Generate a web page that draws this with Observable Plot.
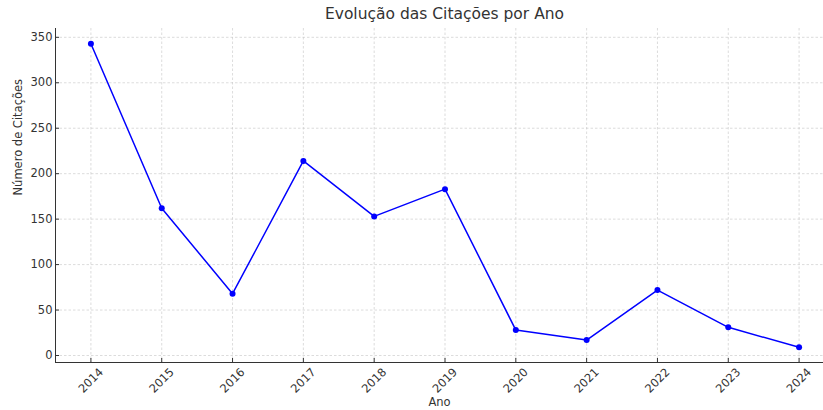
<!DOCTYPE html>
<html>
<head>
<meta charset="utf-8">
<script src="https://cdn.jsdelivr.net/npm/d3@7"></script>
<script src="https://cdn.jsdelivr.net/npm/@observablehq/plot@0.6"></script>
<style>
  html, body { margin: 0; padding: 0; background: white; overflow: hidden; }
  #chart { position: relative; width: 823px; height: 410px; }
  #title { position: absolute; left: 0; top: 5px; width: 889px; text-align: center;
           font-family: "DejaVu Sans", sans-serif; font-size: 15.5px; color: #333; }
</style>
</head>
<body>
<div id="chart"><div id="title">Evolução das Citações por Ano</div></div>
<script>
const years = [2014, 2015, 2016, 2017, 2018, 2019, 2020, 2021, 2022, 2023, 2024];
const citations = [343, 162, 68, 214, 153, 183, 28, 17, 72, 31, 9];
const yTicks = [0, 50, 100, 150, 200, 250, 300, 350];
const xTicks = years;

const data = years.map((y, i) => ({ year: y, value: citations[i] }));
const font = "DejaVu Sans, sans-serif";

const plot = Plot.plot({
  width: 823,
  height: 410,
  marginLeft: 55,
  marginRight: 0,
  marginTop: 28,
  marginBottom: 48,
  style: { fontFamily: font, fontSize: "11.5px", color: "#333", background: "white", overflow: "visible" },
  x: { domain: [2013.5, 2024.5], range: [55, 834] },
  y: { domain: [-7.7, 359.7] },
  marks: [
    Plot.gridX(xTicks, { stroke: "#c8c8c8", strokeOpacity: 0.8, strokeDasharray: "2.5,2", strokeWidth: 0.8 }),
    Plot.gridY(yTicks, { stroke: "#c8c8c8", strokeOpacity: 0.8, strokeDasharray: "2.5,2", strokeWidth: 0.8 }),
    Plot.axisY(yTicks, { tickSize: -4, tickPadding: 7, label: null, stroke: "#333", fill: "#333" }),
    Plot.axisX(xTicks, { tickSize: -4, tickFormat: () => "", label: null, stroke: "#333" }),
    Plot.text(xTicks, { x: d => d, frameAnchor: "bottom", dy: 18, rotate: -45, text: d => String(d),
      textAnchor: "middle", lineAnchor: "middle", fill: "#333", fontSize: 11.5 }),
    Plot.text(["Ano"], { frameAnchor: "bottom", dy: 43, text: d => d, fill: "#333", fontSize: 11.5 }),
    Plot.text(["Número de Citações"], { frameAnchor: "left", dx: -37, rotate: -90, text: d => d, fill: "#333", fontSize: 11.5 }),
    Plot.ruleX([2013.5], { stroke: "#333", strokeWidth: 1 }),
    Plot.ruleY([-7.7], { stroke: "#333", strokeWidth: 1 }),
    Plot.line(data, { x: "year", y: "value", stroke: "#0000ff", strokeWidth: 1.5 }),
    Plot.dot(data, { x: "year", y: "value", fill: "#0000ff", r: 3 })
  ]
});
document.getElementById("chart").appendChild(plot);
</script>
</body>
</html>
